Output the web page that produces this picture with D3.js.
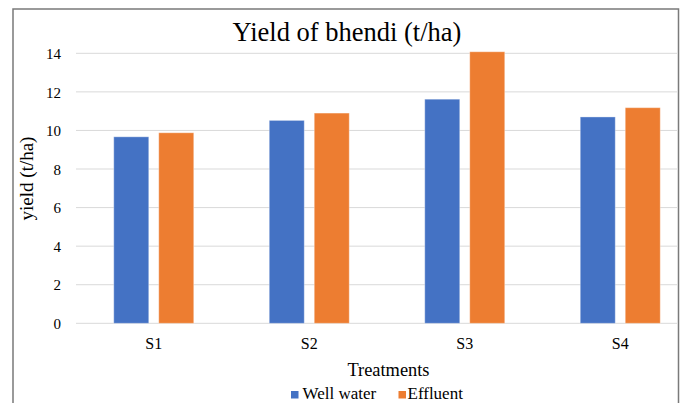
<!DOCTYPE html>
<html>
<head>
<meta charset="utf-8">
<script src="https://cdn.jsdelivr.net/npm/d3@7"></script>
<style>
  html, body { margin: 0; padding: 0; background: #fff; }
  svg { display: block; }
  svg text { font-family: "Liberation Serif", "DejaVu Serif", serif !important; fill: #000; }
</style>
</head>
<body>
<svg id="chart" width="683" height="403"></svg>
<script>
// ---- data ----
const categories = ["S1", "S2", "S3", "S4"];
const seriesNames = ["Well water", "Effluent"];
const wellWater = [9.67, 10.52, 11.62, 10.70];
const effluent = [9.88, 10.90, 14.08, 11.18];
const yTicks = [0, 2, 4, 6, 8, 10, 12, 14];
const colors = ["#4472C4", "#ED7D31"];
const titleText = "Yield of bhendi (t/ha)";
const xTitle = "Treatments";
const yTitle = "yield (t/ha)";

const seriesValues = [wellWater, effluent];
const rows = categories.map((c, i) => ({
  cat: c,
  vals: seriesNames.map((s, j) => ({ key: s, value: seriesValues[j][i], color: colors[j] }))
}));

const FONT = '"Liberation Serif", "DejaVu Serif", serif';
const svg = d3.select("#chart");

// layout
const plot = { left: 76, right: 698, top: 53.3, bottom: 323.3 };
const gridRight = 677;

const x = d3.scaleBand().domain(categories).range([plot.left, plot.right]).padding(0);
const xInner = d3.scaleBand().domain(seriesNames).range([0, x.bandwidth()])
  .paddingInner(0.222).paddingOuter(0.839);
const y = d3.scaleLinear().domain([0, 14]).range([plot.bottom, plot.top]);

// chart border
svg.append("path")
  .attr("d", `M13,403 L13,9 L678.5,9 L678.5,403`)
  .attr("fill", "none").attr("stroke", "#7a7a7a").attr("stroke-width", 1.5);

// gridlines
svg.append("g").selectAll("line").data(yTicks).join("line")
  .attr("x1", plot.left).attr("x2", gridRight)
  .attr("y1", d => y(d)).attr("y2", d => y(d))
  .attr("stroke", "#d9d9d9").attr("stroke-width", 1);

// y axis labels via d3 axis
const yAxis = svg.append("g")
  .attr("transform", `translate(${plot.left - 15},0)`)
  .call(d3.axisLeft(y).tickValues(yTicks).tickSize(0).tickPadding(0).tickFormat(d3.format("d")))
  .attr("font-family", FONT).attr("font-size", 15);
yAxis.select(".domain").remove();
yAxis.selectAll("text")
  .attr("font-family", FONT).attr("font-size", 15)
  .attr("fill", "#000").attr("dy", "0.35em");

// bars
const groups = svg.append("g").selectAll("g").data(rows).join("g")
  .attr("transform", d => `translate(${x(d.cat)},0)`);
groups.selectAll("rect").data(d => d.vals).join("rect")
  .attr("x", d => xInner(d.key))
  .attr("width", xInner.bandwidth())
  .attr("y", d => y(d.value))
  .attr("height", d => y(0) - y(d.value))
  .attr("fill", d => d.color)
  .attr("stroke", "rgba(255,255,255,0.35)")
  .attr("stroke-width", 1);

// x axis labels via d3 axis
const xAxis = svg.append("g")
  .attr("transform", `translate(0,${plot.bottom})`)
  .call(d3.axisBottom(x).tickSize(0).tickPadding(0))
  .attr("font-family", FONT).attr("font-size", 16);
xAxis.select(".domain").remove();
xAxis.selectAll("text")
  .attr("font-family", FONT).attr("font-size", 16).attr("fill", "#000")
  .attr("dy", null).attr("y", 26);

// title
svg.append("text").attr("x", 347).attr("y", 41)
  .attr("text-anchor", "middle").attr("font-size", 26.5).text(titleText);

// axis titles
svg.append("text").attr("x", 388.5).attr("y", 375.5)
  .attr("text-anchor", "middle").attr("font-size", 18.4).text(xTitle);
svg.append("text")
  .attr("transform", `translate(33,178.5) rotate(-90)`)
  .attr("text-anchor", "middle").attr("font-size", 19).text(yTitle);

// legend
const legendItems = [
  { name: seriesNames[0], color: colors[0], sx: 291, tx: 302.5 },
  { name: seriesNames[1], color: colors[1], sx: 398.5, tx: 407.5 }
];
const lg = svg.append("g").selectAll("g").data(legendItems).join("g");
lg.append("rect").attr("x", d => d.sx).attr("y", 391).attr("width", 7.5).attr("height", 7.5)
  .attr("fill", d => d.color);
lg.append("text").attr("x", d => d.tx).attr("y", 399)
  .attr("font-size", 17).text(d => d.name);
</script>
</body>
</html>
